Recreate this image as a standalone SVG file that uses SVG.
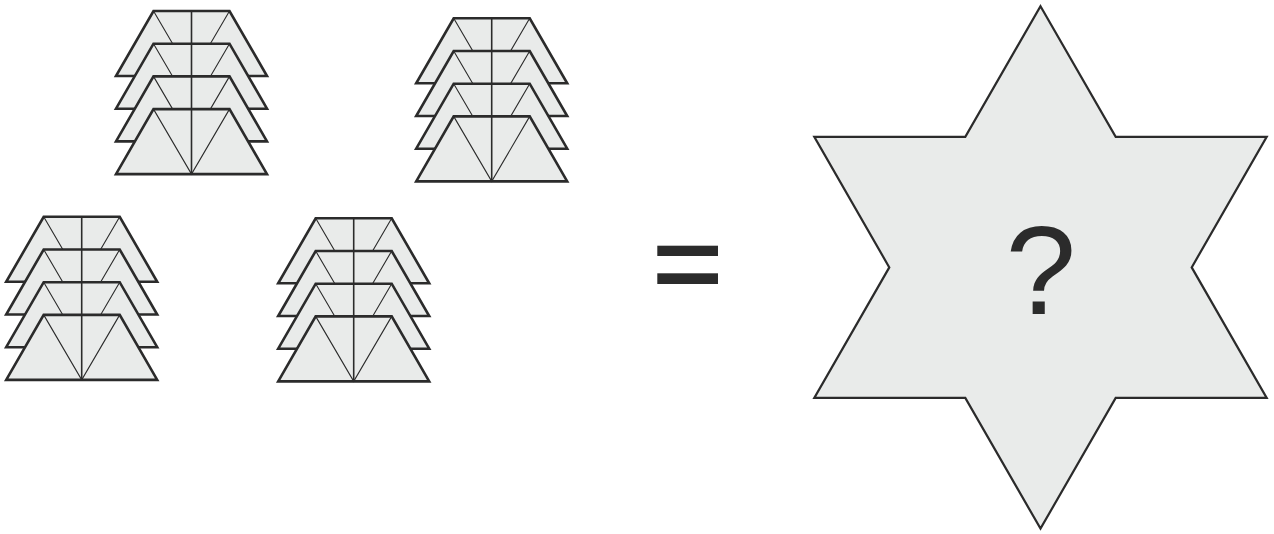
<svg xmlns="http://www.w3.org/2000/svg" xmlns:xlink="http://www.w3.org/1999/xlink" width="1274" height="534" viewBox="0 0 1274 534">
<style>
.piece{fill:#e9ebea;stroke:#2b2b2b;stroke-width:2.6;stroke-linejoin:miter}
.diag{fill:none;stroke:#2b2b2b;stroke-width:1.1}
.axis{fill:none;stroke:#2b2b2b;stroke-width:1.6}
.star{fill:#e9ebea;stroke:#2b2b2b;stroke-width:2.2;stroke-linejoin:miter}
.eq{fill:#2b2b2b}
.q{font-family:"Liberation Sans",Arial,sans-serif;font-size:127px;fill:#2b2b2b;text-anchor:middle}
</style>
<defs>
<g id="layer">
<polygon class="piece" points="-38,0 38,0 75.5,65 -75.5,65"/>
<path class="diag" d="M-38,0 L0,65 L38,0"/>
<path class="axis" d="M0,0 V65"/>
</g>
<g id="stack">
<use xlink:href="#layer" href="#layer" y="0"/>
<use xlink:href="#layer" href="#layer" y="32.7"/>
<use xlink:href="#layer" href="#layer" y="65.4"/>
<use xlink:href="#layer" href="#layer" y="98.1"/>
</g>
</defs>
<rect width="1274" height="534" fill="#ffffff"/>
<g id="stack1"><use xlink:href="#stack" href="#stack" transform="translate(191.5,11)"/></g>
<g id="stack2"><use xlink:href="#stack" href="#stack" transform="translate(491.7,18.3)"/></g>
<g id="stack3"><use xlink:href="#stack" href="#stack" transform="translate(81.7,216.8)"/></g>
<g id="stack4"><use xlink:href="#stack" href="#stack" transform="translate(353.7,218.3)"/></g>
<g id="equals">
<rect class="eq" x="657.3" y="245.7" width="60.7" height="10.3"/>
<rect class="eq" x="657.3" y="273.3" width="60.7" height="10.7"/>
</g>
<g id="star">
<polygon class="star" points="1040.5,6.2 1115.7,136.9 1266.7,136.9 1191.7,267.4 1266.7,397.9 1115.7,397.9 1040.5,528.6 965.3,397.9 814.3,397.9 889.3,267.4 814.3,136.9 965.3,136.9"/>
<text class="q" x="1040.7" y="314.3">?</text>
</g>
<g id="connectors"/>
</svg>
